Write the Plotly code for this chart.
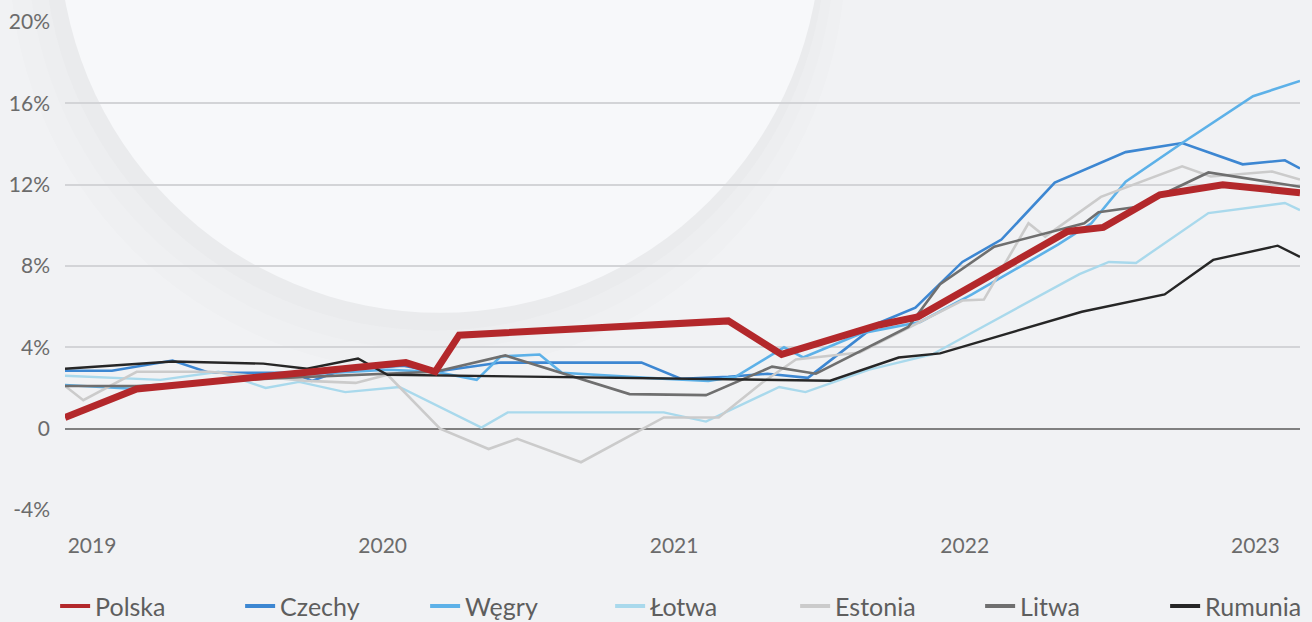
import plotly.graph_objects as go

# Inflation by country, % y/y (vertices of each series)
polska_x = ["2019-01-01", "2019-04-01", "2020-03-04", "2020-04-10", "2020-05-10", "2021-04-13",
            "2021-06-19", "2021-10-19", "2021-12-07", "2022-06-13", "2022-07-28", "2022-10-07",
            "2022-12-25", "2023-04-01"]
polska_y = [0.55, 1.95, 3.25, 2.8, 4.6, 5.3, 3.65, 5.1, 5.5, 9.7, 9.9, 11.5, 12.0, 11.6]

czechy_x = ["2019-01-01", "2019-03-01", "2019-05-16", "2019-07-01", "2019-10-16", "2019-11-07",
            "2019-12-16", "2020-03-01", "2020-04-10", "2020-07-01", "2020-12-25", "2021-02-13",
            "2021-04-13", "2021-06-01", "2021-07-22", "2021-09-25", "2021-10-19", "2021-12-04",
            "2022-02-01", "2022-03-22", "2022-05-28", "2022-08-25", "2022-11-04", "2023-01-19",
            "2023-03-13", "2023-04-01"]
czechy_y = [2.85, 2.85, 3.35, 2.75, 2.75, 2.35, 2.9, 3.1, 2.8, 3.25, 3.25, 2.45, 2.55, 2.7, 2.5,
            4.5, 5.2, 5.95, 8.2, 9.3, 12.1, 13.6, 14.05, 13.0, 13.2, 12.8]

wegry_x = ["2019-01-01", "2019-04-01", "2019-07-01", "2019-10-01", "2020-02-10", "2020-04-10",
           "2020-06-01", "2020-07-01", "2020-08-19", "2020-09-16", "2021-01-01", "2021-03-19",
           "2021-04-22", "2021-06-22", "2021-07-16", "2021-09-28", "2021-12-10", "2022-02-13",
           "2022-06-01", "2022-07-13", "2022-08-25", "2022-11-04", "2023-02-01", "2023-04-01"]
wegry_y = [2.15, 1.95, 2.3, 2.6, 2.9, 2.8, 2.4, 3.55, 3.65, 2.75, 2.5, 2.35, 2.55, 4.0, 3.5,
           4.7, 5.25, 6.6, 9.05, 10.1, 12.15, 14.05, 16.35, 17.1]

lotwa_x = ["2019-01-01", "2019-05-01", "2019-07-13", "2019-09-10", "2019-10-22", "2019-12-19",
           "2020-02-25", "2020-06-07", "2020-07-10", "2021-01-22", "2021-03-16", "2021-06-16",
           "2021-07-19", "2021-10-07", "2021-12-25", "2022-06-28", "2022-08-04", "2022-09-07",
           "2022-12-07", "2023-03-13", "2023-04-01"]
lotwa_y = [2.6, 2.4, 2.8, 2.0, 2.3, 1.8, 2.05, 0.05, 0.8, 0.8, 0.35, 2.05, 1.8, 2.9, 3.65,
           7.6, 8.2, 8.15, 10.6, 11.1, 10.75]

estonia_x = ["2019-01-01", "2019-01-24", "2019-04-01", "2019-07-01", "2019-11-01", "2020-01-01",
             "2020-02-10", "2020-04-16", "2020-06-16", "2020-07-22", "2020-10-10", "2021-01-22",
             "2021-04-01", "2021-05-25", "2021-07-07", "2021-09-25", "2022-02-01", "2022-02-28",
             "2022-04-25", "2022-05-16", "2022-07-25", "2022-11-04", "2022-12-10", "2023-02-25",
             "2023-04-01"]
estonia_y = [2.1, 1.4, 2.8, 2.8, 2.35, 2.25, 2.65, 0.0, -1.0, -0.5, -1.65, 0.55, 0.55, 2.25,
             3.4, 3.75, 6.3, 6.35, 10.1, 9.45, 11.4, 12.9, 12.4, 12.65, 12.25]

litwa_x = ["2019-01-01", "2019-04-01", "2019-10-01", "2020-04-10", "2020-07-07", "2020-12-10",
           "2021-03-16", "2021-06-07", "2021-08-01", "2021-11-25", "2022-01-04", "2022-03-13",
           "2022-07-04", "2022-07-22", "2022-09-07", "2022-12-07", "2023-04-01"]
litwa_y = [2.1, 2.1, 2.5, 2.8, 3.6, 1.7, 1.65, 3.05, 2.7, 5.0, 7.1, 8.95, 10.1, 10.65, 10.9,
           12.6, 11.9]

rumunia_x = ["2019-01-01", "2019-05-16", "2019-09-07", "2019-11-01", "2020-01-04", "2020-02-10",
             "2021-08-19", "2021-10-19", "2021-11-13", "2022-01-04", "2022-07-01", "2022-10-13",
             "2022-12-13", "2023-03-04", "2023-04-01"]
rumunia_y = [2.95, 3.3, 3.2, 2.95, 3.45, 2.65, 2.36, 3.15, 3.5, 3.7, 5.75, 6.6, 8.3, 9.0, 8.45]

y_ticks = [-4, 0, 4, 8, 12, 16, 20]
y_labels = ["-4%", "0", "4%", "8%", "12%", "16%", "20%"]

series = [
    # name, x, y, colour, width, legend rank
    ("Czechy", czechy_x, czechy_y, "#3d87d2", 2.6, 2),
    ("Węgry", wegry_x, wegry_y, "#5db1e8", 2.6, 3),
    ("Łotwa", lotwa_x, lotwa_y, "#a9d9ec", 2.4, 4),
    ("Estonia", estonia_x, estonia_y, "#cbcbcb", 2.6, 5),
    ("Litwa", litwa_x, litwa_y, "#6f6f6f", 2.6, 6),
    ("Rumunia", rumunia_x, rumunia_y, "#262626", 2.4, 7),
    ("Polska", polska_x, polska_y, "#b3282b", 7, 1),
]

fig = go.Figure()
for name, xs, ys, color, width, rank in series:
    fig.add_trace(go.Scatter(
        x=xs, y=ys, name=name, mode="lines",
        line=dict(color=color, width=width),
        legendgroup=name, showlegend=False,
    ))
    # legend entry drawn with a uniform thin sample line
    fig.add_trace(go.Scatter(
        x=[None], y=[None], name=name, mode="lines",
        line=dict(color=color, width=4),
        legendgroup=name, legendrank=rank, showlegend=True,
    ))

# Decorative background: soft-shadowed light disc in the upper left
shapes = []
for dx, dy, grow, alpha in [(-0.010, -0.045, 0.030, 0.010), (-0.007, -0.030, 0.018, 0.014),
                            (-0.004, -0.016, 0.008, 0.018)]:
    shapes.append(dict(type="circle", xref="paper", yref="paper", layer="below",
                       x0=-0.0049 + dx - grow, x1=0.612 + dx + grow,
                       y0=0.404 + dy - grow * 2.5, y1=1.965 + dy + grow * 2.5,
                       fillcolor=f"rgba(110,112,120,{alpha})", line=dict(width=0)))
shapes.append(dict(type="circle", xref="paper", yref="paper", layer="below",
                   x0=-0.0049, x1=0.612, y0=0.404, y1=1.965,
                   fillcolor="#f7f8fa", line=dict(width=0)))

fig.update_layout(
    width=1312, height=622,
    margin=dict(l=65, r=12, t=22, b=112, autoexpand=False),
    paper_bgcolor="#f1f2f4",
    plot_bgcolor="rgba(0,0,0,0)",
    font=dict(family="Lato, 'Open Sans', sans-serif", color="#6b6b6b"),
    shapes=shapes,
    showlegend=True,
    legend=dict(
        orientation="h", x=-0.008, xanchor="left",
        y=-0.197, yanchor="middle",
        bgcolor="rgba(0,0,0,0)", font=dict(size=25, color="#5e5e5e"),
        entrywidth=140, entrywidthmode="pixels", traceorder="normal",
    ),
    xaxis=dict(
        type="date", range=["2019-01-01", "2023-04-01"],
        tick0="2019-01-01", dtick="M12", tickformat="%Y",
        showgrid=False, zeroline=False, showline=False, ticks="",
        tickfont=dict(size=21, color="#6b6b6b"),
        ticklabelshift=27, ticklabelstandoff=21,
    ),
    yaxis=dict(
        range=[-4, 20], tickvals=y_ticks, ticktext=y_labels,
        showgrid=True, gridcolor="#d3d4d7", gridwidth=1.6,
        zeroline=True, zerolinecolor="#808080", zerolinewidth=2,
        showline=False, ticks="", ticklabelstandoff=14,
        tickfont=dict(size=21, color="#6b6b6b"),
    ),
)

fig.write_html("out.html")
